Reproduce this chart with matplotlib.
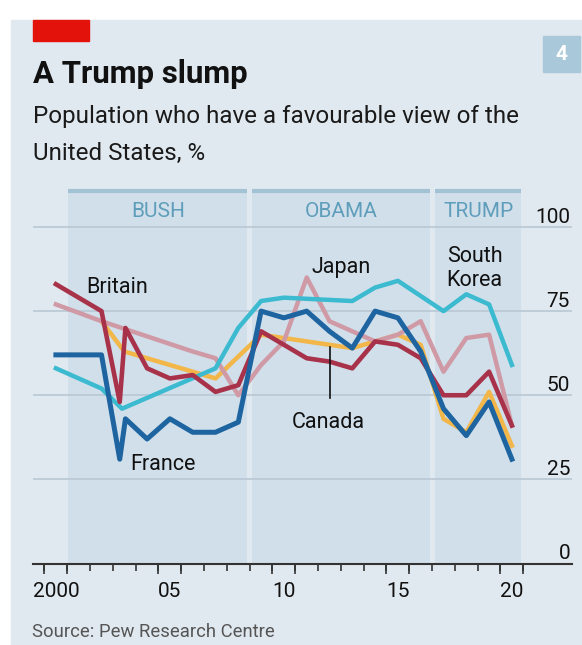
import matplotlib.pyplot as plt
from matplotlib.patches import Rectangle

plt.rcParams['font.family'] = ['Roboto', 'DejaVu Sans']

# survey dates (decimal years) and % favourable
dates_main = [2000.5, 2002.5, 2003.3, 2003.55, 2004.5, 2005.5, 2006.5, 2007.5, 2008.5, 2009.5,
              2010.5, 2011.5, 2012.5, 2013.5, 2014.5, 2015.5, 2016.5, 2017.5, 2018.5, 2019.5, 2020.5]
britain = [83, 75, 48, 70, 58, 55, 56, 51, 53, 69, 65, 61, 60, 58, 66, 65, 61, 50, 50, 57, 41]
france = [62, 62, 31, 43, 37, 43, 39, 39, 42, 75, 73, 75, 69, 64, 75, 73, 63, 46, 38, 48, 31]

canada_dates = [2002.5, 2003.5, 2005.5, 2007.5, 2009.5, 2013.5, 2015.5, 2016.5, 2017.5, 2018.5, 2019.5, 2020.5]
canada = [72, 63, 59, 55, 68, 64, 68, 65, 43, 39, 51, 35]

japan_dates = [2000.5, 2002.5, 2006.5, 2007.5, 2008.5, 2009.5, 2010.5, 2011.5, 2012.5, 2013.5,
               2014.5, 2015.5, 2016.5, 2017.5, 2018.5, 2019.5, 2020.5]
japan = [77, 72, 63, 61, 50, 59, 66, 85, 72, 69, 66, 68, 72, 57, 67, 68, 41]

korea_dates = [2000.5, 2002.5, 2003.4, 2007.5, 2008.5, 2009.5, 2010.5, 2013.5, 2014.5, 2015.5,
               2017.5, 2018.5, 2019.5, 2020.5]
korea = [58, 52, 46, 58, 70, 78, 79, 78, 82, 84, 75, 80, 77, 59]

presidents = ["BUSH", "OBAMA", "TRUMP"]
terms = [(2001.05, 2008.9), (2009.1, 2016.9), (2017.12, 2020.92)]

xlabel_years = [2000, 2005, 2010, 2015, 2020]
xlabel_text = ["2000", "05", "10", "15", "20"]
yticks = [0, 25, 50, 75, 100]

W, H = 582, 645
def fx(px):
    return px / W
def fy(py):
    return 1 - py / H

bg = '#e1e9f0'
band = '#d0dfea'

fig = plt.figure(figsize=(W / 100, H / 100), dpi=100)
fig.patch.set_facecolor('white')
fig.add_artist(Rectangle((fx(11), 0), fx(571), fy(20), transform=fig.transFigure,
                         color=bg, zorder=-5))
fig.add_artist(Rectangle((fx(33), fy(41)), fx(56), 21 / H, transform=fig.transFigure,
                         color='#e3120b', zorder=-4))
fig.add_artist(Rectangle((fx(543), fy(72)), fx(37), 36 / H, transform=fig.transFigure,
                         color='#a9c8d9', zorder=-4))
fig.text(fx(561.5), fy(54), "4", color='white', weight='bold', fontsize=15,
         ha='center', va='center')

fig.text(fx(33), fy(83), "A Trump slump", weight='bold', fontsize=22.4, va='baseline', color='#111111')
fig.text(fx(33), fy(123), "Population who have a favourable view of the", fontsize=17.4,
         va='baseline', color='#1a1a1a')
fig.text(fx(33), fy(160), "United States, %", fontsize=17.4, va='baseline', color='#1a1a1a')
fig.text(fx(32.5), fy(637), "Source: Pew Research Centre", fontsize=13.3, va='baseline', color='#555555')

# axes: 0 at y=563.5px, top at 191px; 2000 at x=44.5px, 22.8 px/year
ax = fig.add_axes([fx(33), fy(563.5), fx(539), (563.5 - 191) / H])
ax.set_facecolor('none')
ytop = (563.5 - 191) / 3.365
ax.set_ylim(0, ytop)
ax.set_xlim(2000 - 11.5 / 22.8, 2000 + 527.5 / 22.8)

for (a, b), name in zip(terms, presidents):
    ax.axvspan(a, b, color=band, lw=0, zorder=0)
    ax.hlines(ytop, a, b, color='#a3c2d4', lw=3, zorder=1, clip_on=False)
    ax.text((a + b) / 2, 102.9, name, ha='center', va='baseline', fontsize=15, color='#5f9ebb')

for v in yticks[1:]:
    ax.axhline(v, color='#b9c8d4', lw=1.2, zorder=1)
for v, lab in zip(yticks, yticks):
    ax.text(2023.05, v + 1.3, str(lab), ha='right', va='baseline', fontsize=15, color='#111111')

ax.plot(canada_dates, canada, color='#f2b649', lw=3.2, solid_joinstyle='round', zorder=3)
ax.plot(japan_dates, japan, color='#cf9aa5', lw=3.2, solid_joinstyle='round', zorder=3)
ax.plot(korea_dates, korea, color='#3cbad0', lw=3.2, solid_joinstyle='round', zorder=3)
ax.plot(dates_main, britain, color='#a8324a', lw=3.3, solid_joinstyle='round', zorder=4)
ax.plot(dates_main, france, color='#1d64a0', lw=3.6, solid_joinstyle='round', zorder=5)

ax.text(2001.82, 80.4, "Britain", fontsize=15.5, va='baseline', ha='left', color='#111111')
ax.text(2013.0, 86.3, "Japan", fontsize=15.5, va='baseline', ha='center', color='#111111')
ax.text(2017.64, 89.7, "South", fontsize=15.5, va='baseline', ha='left', color='#111111')
ax.text(2017.64, 82.5, "Korea", fontsize=15.5, va='baseline', ha='left', color='#111111')
ax.text(2003.75, 27.8, "France", fontsize=15.5, va='baseline', ha='left', color='#111111')
ax.text(2012.43, 40.3, "Canada", fontsize=15.5, va='baseline', ha='center', color='#111111')
ax.plot([2012.52, 2012.52], [49.2, 64.4], color='#111111', lw=1.2, zorder=6)

for s in ['top', 'left', 'right']:
    ax.spines[s].set_visible(False)
ax.spines['bottom'].set_color('#333333')
ax.spines['bottom'].set_linewidth(1.5)
ax.set_yticks([])

ax.set_xticks([y + 0.5 for y in xlabel_years])
ax.set_xticklabels(xlabel_text, fontsize=15, color='#111111')
ax.set_xticks(range(2000, 2022), minor=True)
ax.tick_params(axis='x', which='major', length=0, pad=13)
ax.tick_params(axis='x', which='minor', length=5, width=1.2, color='#333333')
long_ticks = [2000, 2001, 2005, 2006, 2010, 2011, 2015, 2016, 2020, 2021]
ax.vlines(long_ticks, -3, 0, color='#333333', lw=1.2, clip_on=False)

fig.savefig('out.png', dpi=100)
